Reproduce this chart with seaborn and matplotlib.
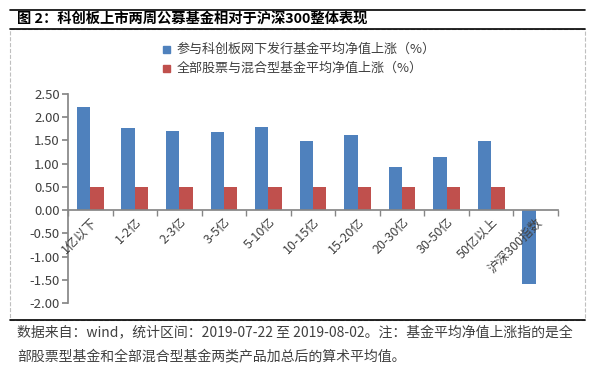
import numpy as np
import pandas as pd
import matplotlib
matplotlib.use('Agg')
import matplotlib.pyplot as plt
import seaborn as sns
from matplotlib.patches import Rectangle
from matplotlib.lines import Line2D

# data
categories = ['1亿以下', '1-2亿', '2-3亿', '3-5亿', '5-10亿', '10-15亿', '15-20亿',
              '20-30亿', '30-50亿', '50亿以上', '沪深300指数']
star_funds = [2.21, 1.76, 1.70, 1.68, 1.79, 1.49, 1.62, 0.93, 1.14, 1.49, -1.59]
all_funds = [0.49, 0.49, 0.49, 0.49, 0.49, 0.49, 0.49, 0.49, 0.49, 0.49, np.nan]
series_names = ['参与科创板网下发行基金平均净值上涨（%）', '全部股票与混合型基金平均净值上涨（%）']
colors = ['#4F81BD', '#C0504D']
yticks = [2.5, 2.0, 1.5, 1.0, 0.5, 0.0, -0.5, -1.0, -1.5, -2.0]

df = pd.DataFrame({
    'cat': categories * 2,
    'val': star_funds + all_funds,
    'series': [series_names[0]] * len(categories) + [series_names[1]] * len(categories),
})

sns.set_theme(style='white')
plt.rcParams['font.family'] = ['Noto Sans CJK SC', 'DejaVu Sans']
txt = '#404040'
gray = '#868686'

fig = plt.figure(figsize=(5.94, 3.72), dpi=100)
ax = fig.add_axes([68 / 594, 1 - 303 / 372, 490 / 594, 209 / 372])

sns.barplot(data=df, x='cat', y='val', hue='series', hue_order=series_names,
            palette=colors, width=0.6, saturation=1, linewidth=0, ax=ax, legend=False)

ax.set_xlim(-0.5, len(categories) - 0.5)
ax.set_ylim(-2.0, 2.5)
ax.set_yticks(yticks)
ax.set_yticklabels([f'{v:.2f}' for v in yticks], fontsize=9.5, color=txt)
ax.set_xlabel('')
ax.set_ylabel('')
ax.set_axisbelow(False)

for s in ['top', 'right']:
    ax.spines[s].set_visible(False)
ax.spines['left'].set_color(gray)
ax.spines['bottom'].set_color(gray)
ax.spines['bottom'].set_position(('data', 0))

ax.set_xticks(range(len(categories)))
ax.set_xticklabels(categories, rotation=45, ha='right', rotation_mode='anchor',
                   fontsize=9, color=txt)
ax.tick_params(axis='x', which='major', length=0, pad=4)
ax.set_xticks(np.arange(-0.5, len(categories), 1), minor=True)
ax.tick_params(axis='x', which='minor', length=4, color=gray, direction='out', bottom=True)
ax.tick_params(axis='y', length=4, color=gray, direction='out', left=True, pad=2)

# frame, title and notes
fig.add_artist(Line2D([10 / 594, 585 / 594], [1 - 10 / 372] * 2, color='black', lw=1.2))
fig.add_artist(Line2D([10 / 594, 585 / 594], [1 - 29 / 372] * 2, color='black', lw=1.2))
fig.add_artist(Line2D([10 / 594, 585 / 594], [1 - 320 / 372] * 2, color='black', lw=1.2))
fig.add_artist(Rectangle((10 / 594, 1 - 320 / 372), 575 / 594, 291 / 372, fill=False,
                         ec='#BFBFBF', lw=0.8, ls='--'))
fig.text(17 / 594, 1 - 19 / 372, '图 2：科创板上市两周公募基金相对于沪深300整体表现',
         fontsize=10.3, fontweight='bold', color='black', va='center')

for i, (name, c) in enumerate(zip(series_names, colors)):
    y = 1 - (49.5 + 19 * i) / 372
    fig.add_artist(Rectangle((163 / 594, y - 3.5 / 372), 7 / 594, 7 / 372, color=c))
    fig.text(177 / 594, y, name, fontsize=9.4, color=txt, va='center')

fig.text(17 / 594, 1 - 333 / 372,
         '数据来自：wind，统计区间：2019-07-22 至 2019-08-02。注：基金平均净值上涨指的是全',
         fontsize=10, color=txt, va='center')
fig.text(17 / 594, 1 - 356 / 372,
         '部股票型基金和全部混合型基金两类产品加总后的算术平均值。',
         fontsize=10, color=txt, va='center')

fig.savefig('out.png', dpi=100)
